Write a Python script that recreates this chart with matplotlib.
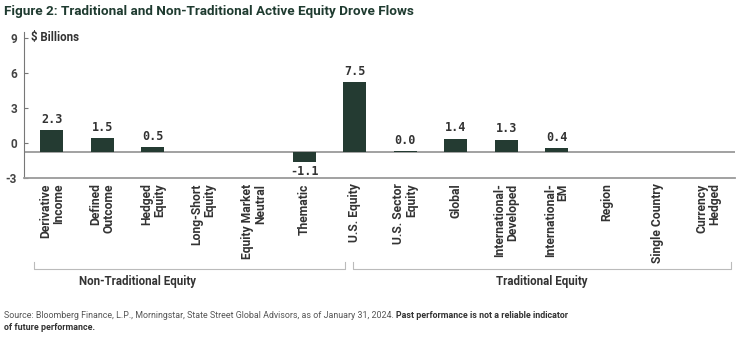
import numpy as np
import matplotlib
matplotlib.use("Agg")
import matplotlib.pyplot as plt
from matplotlib.transforms import blended_transform_factory

plt.rcParams['font.family'] = ['Roboto', 'DejaVu Sans']

# data
categories = ["Derivative\nIncome", "Defined\nOutcome", "Hedged\nEquity", "Long-Short\nEquity",
              "Equity Market\nNeutral", "Thematic", "U.S. Equity", "U.S. Sector\nEquity", "Global",
              "International-\nDeveloped", "International-\nEM", "Region", "Single Country",
              "Currency\nHedged"]
flows = [2.3, 1.5, 0.5, 0.02, 0.02, -1.1, 7.5, 0.03, 1.4, 1.3, 0.4, np.nan, np.nan, np.nan]
flow_labels = ["2.3", "1.5", "0.5", "", "", "-1.1", "7.5", "0.0", "1.4", "1.3", "0.4", "", "", ""]
y_ticks = [-3, 0, 3, 6, 9]
groups = ["Non-Traditional Equity", "Traditional Equity"]
group_sizes = [6, 8]

bar_color = "#243b32"
grey_line = "#9a9a9a"
text_dark = "#333333"

fig = plt.figure(figsize=(7.46, 3.39), dpi=100)
ax = fig.add_axes([24 / 746, 1 - 178 / 339, (735 - 24) / 746, (178 - 32) / 339])

x = np.arange(len(categories))
ax.bar(x, flows, width=0.46, color=bar_color, zorder=3)
ax.set_xlim(-0.55, len(categories) - 0.47)
ylo, yhi = -2.82, 12.83
ax.set_ylim(ylo, yhi)
ax.axhline(0, color=grey_line, lw=1.3, zorder=2)

for xi, v, lab in zip(x, flows, flow_labels):
    if not lab:
        continue
    if v < 0:
        ax.annotate(lab, (xi, v), xytext=(0, -2), textcoords="offset points",
                    ha="center", va="top", fontsize=8.5, fontweight="bold",
                    family="DejaVu Sans Mono", color=text_dark)
    else:
        ax.annotate(lab, (xi, v), xytext=(0, 3), textcoords="offset points",
                    ha="center", va="bottom", fontsize=8.5, fontweight="bold",
                    family="DejaVu Sans Mono", color=text_dark)

# spines
for s in ["top", "right"]:
    ax.spines[s].set_visible(False)
ax.spines["left"].set_color("#777777")
ax.spines["left"].set_linewidth(0.8)
ax.spines["bottom"].set_color(grey_line)
ax.spines["bottom"].set_linewidth(1.3)

# x tick labels
ax.set_xticks(x)
ax.set_xticklabels(categories, rotation=90, fontsize=8.7, fontweight="bold",
                   color=text_dark, multialignment="right", linespacing=1.0)
ax.tick_params(axis="x", length=0, pad=4)

# y axis labels sit on their own scale from -3 (bottom) to 9
k = 12 / (12.19 - ylo)
sec = ax.secondary_yaxis("left", functions=(lambda d: (d - ylo) * k - 3,
                                            lambda l: (l + 3) / k + ylo))
sec.set_yticks(y_ticks)
sec.set_yticklabels([str(t) for t in y_ticks], fontsize=8.5, fontweight="bold", color="#444444")
sec.tick_params(axis="y", direction="in", length=3, width=0.8, color="#777777", pad=5)
sec.spines["left"].set_visible(False)
ax.set_yticks([])

ax.text(0.01, 0.965, "$ Billions", transform=ax.transAxes, fontsize=8.3, fontweight="bold",
        color=text_dark, va="center", ha="left")

# group brackets
trans = blended_transform_factory(ax.transData, fig.transFigure)
bracket_pads = [(-0.35, 0.8), (-0.04, 0.45)]
start = 0
for name, n, (p0, p1) in zip(groups, group_sizes, bracket_pads):
    x0 = start + p0
    x1 = start + n - 1 + p1
    yb = 1 - 269 / 339
    ytop = 1 - 262 / 339
    ax.plot([x0, x0, x1, x1], [ytop, yb, yb, ytop], transform=trans, color="#bbbbbb",
            lw=0.8, clip_on=False)
    xc = (x0 + x1) / 2 if start > 0 else start + 1.7
    ax.text(xc, 1 - 281 / 339, name, transform=trans, ha="center", va="center",
            fontsize=8.3, fontweight="bold", color=text_dark)
    start += n

fig.text(4 / 746, 1 - 11 / 339, "Figure 2: Traditional and Non-Traditional Active Equity Drove Flows",
         fontsize=9.7, fontweight="bold", color="#1f3b30", va="center", ha="left")

src = fig.text(4 / 746, 1 - 320 / 339,
               "Source: Bloomberg Finance, L.P., Morningstar, State Street Global Advisors, as of January 31, 2024. ",
               fontsize=6.4, color="#555555", va="bottom", ha="left")
ax.annotate("Past performance is not a reliable indicator", xy=(1, 0), xycoords=src,
            fontsize=6.4, fontweight="bold", color="#333333", va="bottom", ha="left",
            annotation_clip=False)
fig.text(4 / 746, 1 - 332 / 339, "of future performance.", fontsize=6.4, fontweight="bold",
         color="#333333", va="bottom", ha="left")

fig.savefig("out.png", dpi=100)
